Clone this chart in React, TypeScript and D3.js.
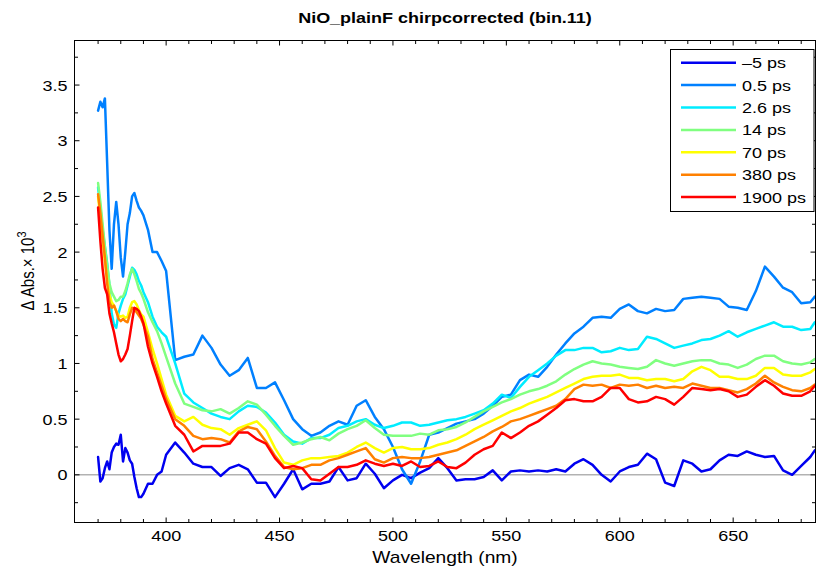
import React from "react";
import * as d3 from "d3";

const WAVELENGTH = [370,371,372,373,374,375,376,377,378,379,380,381,382,383,384,385,386,387,388,389,390,392,394,396,398,400,404,408,412,416,420,424,428,432,436,440,444,448,452,456,460,464,468,472,476,480,484,488,492,496,500,504,508,512,516,520,524,528,532,536,540,544,548,552,556,560,564,568,572,576,580,584,588,592,596,600,604,608,612,616,620,624,628,632,636,640,644,648,652,656,660,664,668,672,676,680,684,686];

const PS_M5 = [0.16,-0.06,-0.03,0.06,0.12,0.05,0.2,0.25,0.28,0.27,0.36,0.12,0.24,0.2,0.13,0.1,-0.02,-0.12,-0.2,-0.2,-0.17,-0.08,-0.08,0.0,0.03,0.18,0.29,0.2,0.1,0.07,0.07,-0.01,0.06,0.09,0.05,-0.07,-0.07,-0.2,-0.08,0.05,-0.13,-0.08,-0.08,-0.06,0.07,-0.05,-0.03,0.1,0.01,-0.12,-0.05,0.0,-0.03,0.02,0.06,0.15,0.06,-0.05,-0.04,-0.04,-0.02,0.04,-0.05,0.03,0.04,0.03,0.04,0.03,0.05,0.03,0.1,0.14,0.09,0.0,-0.06,0.03,0.07,0.09,0.19,0.14,-0.07,-0.1,0.13,0.1,0.03,0.05,0.13,0.18,0.17,0.21,0.18,0.16,0.17,0.04,0.0,0.08,0.16,0.22];

const PS_05 = [3.27,3.35,3.3,3.38,2.8,2.2,1.85,2.25,2.45,2.25,1.95,1.78,2.0,2.25,2.35,2.5,2.53,2.46,2.4,2.37,2.33,2.2,2.0,2.0,1.92,1.83,1.03,1.06,1.08,1.25,1.14,0.99,0.89,0.94,1.05,0.78,0.78,0.83,0.67,0.5,0.41,0.35,0.38,0.44,0.48,0.45,0.62,0.67,0.52,0.41,0.25,0.05,-0.08,0.12,0.36,0.38,0.42,0.46,0.48,0.5,0.55,0.62,0.7,0.72,0.85,0.9,0.88,0.97,1.08,1.18,1.27,1.33,1.41,1.42,1.41,1.49,1.53,1.47,1.45,1.49,1.47,1.48,1.58,1.59,1.6,1.59,1.58,1.51,1.5,1.48,1.65,1.87,1.78,1.68,1.64,1.54,1.55,1.6];

const PS_26 = [2.58,2.4,2.2,2.05,1.9,1.7,1.45,1.35,1.32,1.45,1.52,1.58,1.62,1.7,1.78,1.86,1.84,1.8,1.74,1.7,1.64,1.55,1.42,1.33,1.28,1.24,1.0,0.73,0.65,0.6,0.55,0.52,0.5,0.57,0.62,0.61,0.56,0.47,0.36,0.3,0.28,0.33,0.33,0.36,0.42,0.44,0.48,0.5,0.45,0.42,0.44,0.47,0.47,0.44,0.45,0.47,0.49,0.5,0.52,0.55,0.58,0.64,0.72,0.69,0.79,0.88,0.94,1.0,1.07,1.12,1.12,1.14,1.14,1.1,1.11,1.14,1.12,1.13,1.24,1.22,1.18,1.14,1.16,1.18,1.21,1.22,1.25,1.29,1.24,1.28,1.31,1.34,1.37,1.33,1.33,1.3,1.31,1.37];

const PS_14 = [2.62,2.45,2.25,2.05,1.88,1.72,1.64,1.6,1.56,1.57,1.6,1.6,1.65,1.72,1.8,1.85,1.8,1.74,1.67,1.63,1.58,1.46,1.37,1.29,1.18,1.06,0.82,0.64,0.61,0.58,0.57,0.59,0.55,0.6,0.66,0.63,0.54,0.44,0.35,0.27,0.29,0.32,0.34,0.31,0.37,0.41,0.44,0.49,0.42,0.36,0.35,0.35,0.35,0.37,0.36,0.4,0.41,0.43,0.47,0.52,0.57,0.61,0.65,0.68,0.72,0.75,0.77,0.8,0.84,0.9,0.95,0.99,1.02,1.0,0.99,0.97,0.96,0.95,0.97,1.03,1.0,0.98,1.0,1.02,1.03,1.03,1.0,0.99,0.96,0.99,1.04,1.07,1.07,1.02,1.0,0.99,1.01,1.04];

const PS_70 = [2.5,2.3,2.1,1.92,1.75,1.62,1.55,1.52,1.47,1.43,1.42,1.43,1.41,1.42,1.5,1.55,1.56,1.53,1.48,1.44,1.42,1.28,1.13,1.0,0.86,0.72,0.53,0.48,0.52,0.45,0.42,0.41,0.36,0.42,0.45,0.48,0.4,0.24,0.11,0.09,0.13,0.15,0.15,0.16,0.17,0.2,0.25,0.29,0.24,0.2,0.24,0.25,0.23,0.23,0.24,0.27,0.29,0.32,0.36,0.41,0.45,0.49,0.53,0.57,0.6,0.64,0.67,0.7,0.74,0.78,0.82,0.86,0.88,0.89,0.89,0.9,0.87,0.87,0.85,0.86,0.86,0.84,0.86,0.93,0.97,0.94,0.88,0.88,0.86,0.86,0.89,0.96,0.96,0.9,0.89,0.89,0.92,0.95];

const PS_380 = [2.52,2.35,2.15,1.95,1.72,1.55,1.5,1.52,1.47,1.4,1.38,1.4,1.38,1.37,1.44,1.5,1.49,1.46,1.43,1.4,1.35,1.24,1.04,0.92,0.8,0.68,0.5,0.44,0.35,0.32,0.33,0.32,0.29,0.39,0.43,0.41,0.3,0.17,0.07,0.05,0.06,0.09,0.09,0.13,0.15,0.18,0.21,0.24,0.14,0.11,0.15,0.16,0.15,0.15,0.16,0.18,0.2,0.22,0.26,0.3,0.34,0.39,0.43,0.48,0.5,0.53,0.56,0.59,0.62,0.68,0.77,0.81,0.8,0.81,0.78,0.81,0.8,0.81,0.78,0.8,0.78,0.79,0.78,0.82,0.8,0.78,0.78,0.76,0.74,0.77,0.82,0.89,0.83,0.79,0.76,0.75,0.78,0.81];

const PS_1900 = [2.4,2.1,1.85,1.68,1.62,1.45,1.36,1.28,1.18,1.08,1.02,1.04,1.08,1.13,1.25,1.38,1.5,1.49,1.47,1.42,1.36,1.15,1.0,0.88,0.75,0.64,0.44,0.36,0.21,0.26,0.26,0.26,0.28,0.38,0.38,0.32,0.28,0.15,0.06,0.08,0.06,-0.04,-0.05,0.01,0.07,0.07,0.09,0.13,0.1,0.08,0.1,0.08,0.12,0.07,0.08,0.12,0.07,0.06,0.11,0.18,0.23,0.26,0.38,0.33,0.38,0.44,0.48,0.54,0.6,0.67,0.68,0.66,0.66,0.7,0.78,0.78,0.68,0.65,0.66,0.7,0.68,0.63,0.7,0.78,0.77,0.76,0.77,0.75,0.7,0.72,0.79,0.85,0.8,0.73,0.71,0.71,0.75,0.8];

const SERIES_VALUES = [PS_M5, PS_05, PS_26, PS_14, PS_70, PS_380, PS_1900];
const SERIES_LABELS = ["\u20135 ps", "0.5 ps", "2.6 ps", "14 ps", "70 ps", "380 ps", "1900 ps"];
const SERIES_COLORS = ["#0000f0", "#0080ff", "#00ecff", "#80ff80", "#ffff00", "#ff8000", "#ff0000"];

const X_TICKS = [400, 450, 500, 550, 600, 650];
const X_MINOR = [370, 380, 390, 410, 420, 430, 440, 460, 470, 480, 490, 510, 520, 530, 540, 560, 570, 580, 590, 610, 620, 630, 640, 660, 670, 680];
const Y_TICKS = [0, 0.5, 1, 1.5, 2, 2.5, 3, 3.5];
const Y_MINOR = [-0.25, 0.25, 0.75, 1.25, 1.75, 2.25, 2.75, 3.25, 3.75];

const TITLE = "NiO_plainF chirpcorrected (bin.11)";
const X_LABEL = "Wavelength (nm)";

const W = 816;
const H = 571;
const L = 74.5, R = 815.5, T = 40.5, B = 522.5;
const SX = 1.2;
const FONT = "'Liberation Sans', Arial, Helvetica, sans-serif";

function SText({ x, y, anchor = "middle", size = 15, weight = "normal", children }: any) {
  return (
    <g transform={`translate(${x},${y}) scale(${SX},1)`}>
      <text x={0} y={0} textAnchor={anchor} fontSize={size} fontWeight={weight} fontFamily={FONT} fill="#000">
        {children}
      </text>
    </g>
  );
}

export default function App() {
  const x = d3.scaleLinear().domain([359.6, 686.3]).range([L, R]);
  const y = d3.scaleLinear().domain([-0.428, 3.9]).range([B, T]);
  const line = d3
    .line<[number, number]>()
    .x((d) => x(d[0]))
    .y((d) => y(d[1]));

  const majorLen = 5;
  const minorLen = 3.5;

  const legX = 670.5, legY = 49.5, legW = 143.5, legH = 162;
  const rowStart = 62.7, rowStep = 22.4;

  return (
    <svg width={W} height={H} style={{ position: "absolute", left: 0, top: 0, background: "#fff" }}>
      <rect x={0} y={0} width={W} height={H} fill="#fff" />
      <defs>
        <clipPath id="plotclip">
          <rect x={L} y={T} width={R - L} height={B - T} />
        </clipPath>
      </defs>

      {/* zero line */}
      <line x1={L} x2={R} y1={y(0)} y2={y(0)} stroke="#8c8c8c" strokeWidth={1} />

      {/* series */}
      <g clipPath="url(#plotclip)">
        {SERIES_VALUES.map((vals, i) => (
          <path
            key={i}
            d={line(WAVELENGTH.map((w, j) => [w, vals[j]] as [number, number])) || ""}
            fill="none"
            stroke={SERIES_COLORS[i]}
            strokeWidth={2.5}
            strokeLinejoin="round"
            strokeLinecap="round"
          />
        ))}
      </g>

      {/* frame */}
      <rect x={L} y={T} width={R - L} height={B - T} fill="none" stroke="#000" strokeWidth={1} />

      {/* x ticks */}
      {X_TICKS.map((t) => (
        <g key={"xt" + t}>
          <line x1={x(t)} x2={x(t)} y1={B} y2={B - majorLen} stroke="#000" />
          <line x1={x(t)} x2={x(t)} y1={T} y2={T + majorLen} stroke="#000" />
        </g>
      ))}
      {X_MINOR.map((t) => (
        <g key={"xm" + t}>
          <line x1={x(t)} x2={x(t)} y1={B} y2={B - minorLen} stroke="#000" />
          <line x1={x(t)} x2={x(t)} y1={T} y2={T + minorLen} stroke="#000" />
        </g>
      ))}
      {/* y ticks */}
      {Y_TICKS.map((t) => (
        <g key={"yt" + t}>
          <line x1={L} x2={L + majorLen} y1={y(t)} y2={y(t)} stroke="#000" />
          <line x1={R} x2={R - majorLen} y1={y(t)} y2={y(t)} stroke="#000" />
        </g>
      ))}
      {Y_MINOR.map((t) => (
        <g key={"ym" + t}>
          <line x1={L} x2={L + minorLen} y1={y(t)} y2={y(t)} stroke="#000" />
          <line x1={R} x2={R - minorLen} y1={y(t)} y2={y(t)} stroke="#000" />
        </g>
      ))}

      {/* tick labels */}
      {X_TICKS.map((t) => (
        <SText key={"xl" + t} x={x(t)} y={541}>
          {String(t)}
        </SText>
      ))}
      {Y_TICKS.map((t) => (
        <SText key={"yl" + t} x={67.5} y={y(t) + 5.5} anchor="end">
          {String(t)}
        </SText>
      ))}

      {/* axis labels */}
      <SText x={(L + R) / 2} y={563} size={16}>
        {X_LABEL}
      </SText>
      <g transform={`translate(34,271) rotate(-90) scale(1,${SX})`}>
        <text x={0} y={0} textAnchor="middle" fontSize={15} fontFamily={FONT} fill="#000">
          {"\u0394 Abs.\u00d7 10"}
          <tspan fontSize={11} dy={-7}>3</tspan>
        </text>
      </g>

      {/* title */}
      <SText x={(L + R) / 2} y={23} size={15} weight="bold">
        {TITLE}
      </SText>

      {/* legend */}
      <rect x={legX} y={legY} width={legW} height={legH} fill="#fff" stroke="#000" strokeWidth={1} />
      {SERIES_LABELS.map((lab, i) => {
        const ry = rowStart + i * rowStep;
        return (
          <g key={"lg" + i}>
            <line x1={681} x2={736} y1={ry} y2={ry} stroke={SERIES_COLORS[i]} strokeWidth={2.5} />
            <SText x={742} y={ry + 5.5} anchor="start">
              {lab}
            </SText>
          </g>
        );
      })}
    </svg>
  );
}
